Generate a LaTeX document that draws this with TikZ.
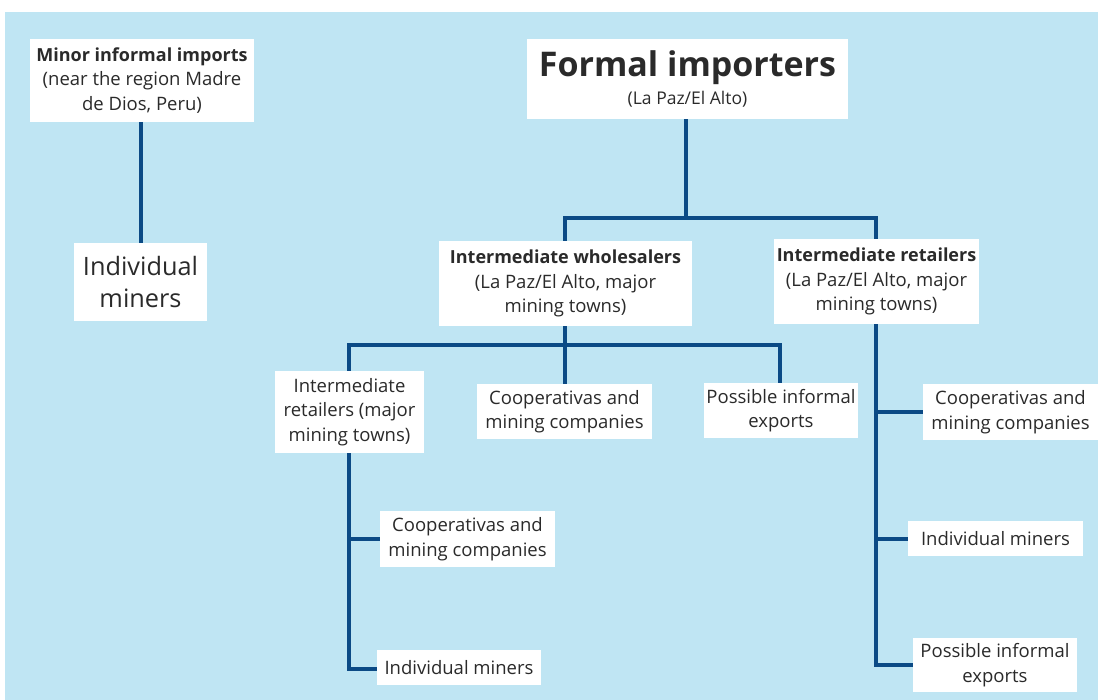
\documentclass[tikz,border=0pt]{standalone}
\usepackage{fontspec}
\setmainfont{Open Sans}
\definecolor{bgblue}{HTML}{BFE5F3}
\definecolor{linkblue}{HTML}{0B4A85}
\definecolor{txt}{HTML}{2A2A2A}
\begin{document}
\begin{tikzpicture}[x=1pt,y=-1pt,
  box/.style={fill=white, inner sep=0pt, align=center, text=txt,
    font=\fontsize{18.5}{24.5}\selectfont},
  link/.style={draw=linkblue, line width=4pt}]
\useasboundingbox (0,0) rectangle (1098,700);
\fill[bgblue] (5,12) rectangle (1098,700);

% boxes
\node[box, minimum width=224pt, minimum height=83pt] (minor) at (142,80.5)
  {{\fontsize{18}{24.5}\selectfont\bfseries Minor informal imports}\\(near the region Madre\\de Dios, Peru)};
\node[box, minimum width=133pt, minimum height=78pt,
  font=\fontsize{25.3}{32}\selectfont] (indA) at (140.5,282) {Individual\\miners};

\node[box, minimum width=321pt, minimum height=80pt] (formal) at (687.5,79)
  {{\fontsize{34}{36}\selectfont\bfseries Formal importers}\\[3pt]
   {\fontsize{17.5}{20}\selectfont (La Paz/El Alto)}};

\node[box, minimum width=253pt, minimum height=85pt] (whole) at (565.5,283.5)
  {{\fontsize{18}{24.5}\selectfont\bfseries Intermediate wholesalers}\\(La Paz/El Alto, major\\mining towns)};
\node[box, minimum width=205pt, minimum height=85pt] (retR) at (876.5,281.5)
  {{\fontsize{18}{24.5}\selectfont\bfseries Intermediate retailers}\\(La Paz/El Alto, major\\mining towns)};

\node[box, minimum width=149pt, minimum height=82pt] (retL) at (349.5,412)
  {Intermediate\\retailers (major\\mining towns)};
\node[box, minimum width=175pt, minimum height=55pt] (coopM) at (564.5,411.5)
  {Cooperativas and\\mining companies};
\node[box, minimum width=154pt, minimum height=55pt] (possM) at (781,410.5)
  {Possible informal\\exports};

\node[box, minimum width=175pt, minimum height=56pt] (coopL) at (467.5,539)
  {Cooperativas and\\mining companies};
\node[box, minimum width=164pt, minimum height=35pt] (indL) at (459,667.5)
  {Individual miners};

\node[box, minimum width=175pt, minimum height=56pt] (coopR) at (1010.5,412)
  {Cooperativas and\\mining companies};
\node[box, minimum width=175pt, minimum height=35pt] (indR) at (995.5,538.5)
  {Individual miners};
\node[box, minimum width=164pt, minimum height=54pt] (possR) at (995,665)
  {Possible informal\\exports};

% junction points of the connector bars
\coordinate (topbar) at (686,218);
\coordinate (midbar) at (565,345);
\coordinate (leftend) at (349,669);
\coordinate (rightend) at (876,665);

% connectors
\draw[link] (minor.south -| 141,0) -- (indA.north -| 141,0);
\draw[link] (formal.south -| topbar) -- (topbar);
\draw[link] (whole.north -| midbar) |- (topbar) -| (retR.north -| rightend);
\draw[link] (whole.south -| midbar) -- (midbar);
\draw[link] (retL.north -| leftend) |- (midbar) -| (possM.north -| 780,0);
\draw[link] (midbar) -- (coopM.north -| midbar);
\draw[link] (retL.south -| leftend) -- (leftend) -- (indL.west |- leftend);
\draw[link] (coopL.west) -- (coopL.west -| leftend);
\draw[link] (retR.south -| rightend) -- (rightend) -- (possR.west |- rightend);
\draw[link] (coopR.west) -- (coopR.west -| rightend);
\draw[link] (indR.west) -- (indR.west -| rightend);
\end{tikzpicture}
\end{document}
